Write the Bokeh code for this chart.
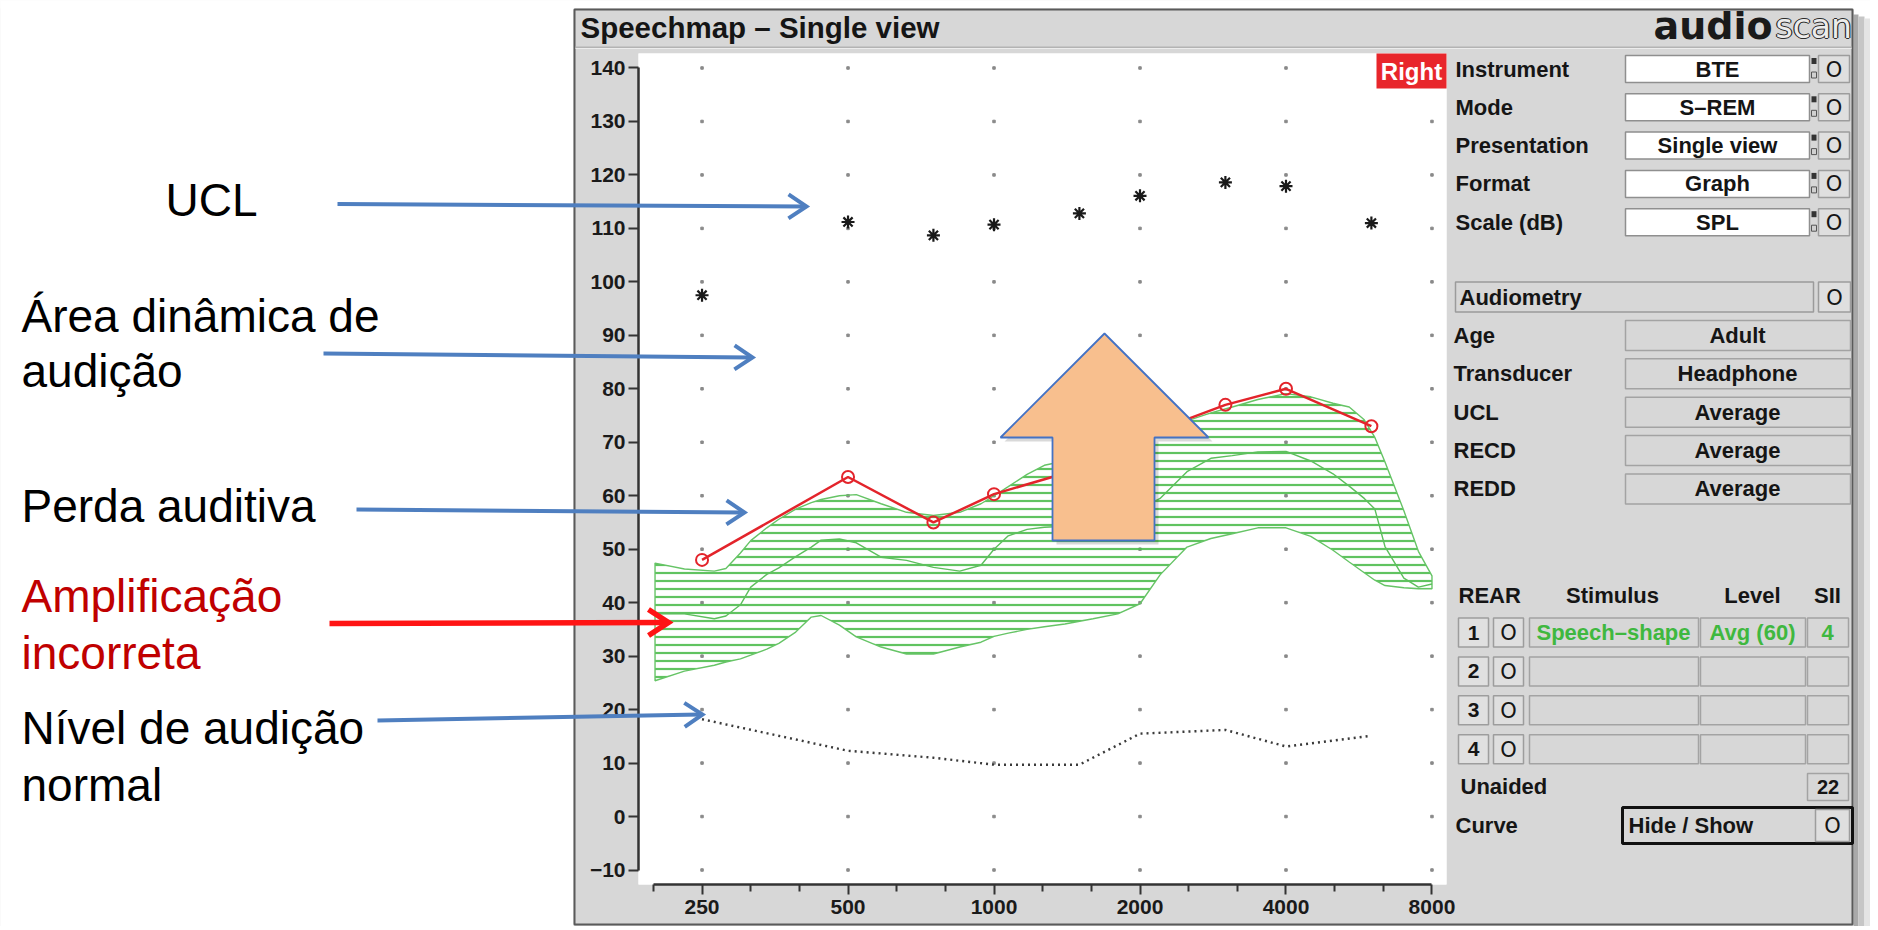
import math
from bokeh.plotting import figure
from bokeh.models import Range1d, FixedTicker, NumeralTickFormatter, LinearScale
from bokeh.core.properties import value
from bokeh.embed import file_html
from bokeh.resources import INLINE

# ---------------- data ----------------
db_ticks = [-10, 0, 10, 20, 30, 40, 50, 60, 70, 80, 90, 100, 110, 120, 130, 140]
freq_ticks = [250, 500, 1000, 2000, 4000, 8000]
freq_minor = [198.4, 315, 397, 630, 794, 1260, 1587, 2520, 3175, 5040, 6350]

ucl_freq = [250, 500, 750, 1000, 1500, 2000, 3000, 4000, 6000]
ucl_db = [97.5, 111.2, 108.7, 110.7, 112.8, 116.1, 118.6, 117.9, 111.0]

thr_freq = [250, 500, 750, 1000, 1500, 2000, 3000, 4000, 6000]
thr_db = [48.0, 63.5, 55.0, 60.3, 65.0, 71.0, 77.0, 80.0, 73.0]

normal_freq = [250, 500, 750, 1000, 1500, 2000, 3000, 4000, 6000]
normal_db = [18.2, 12.3, 11.0, 9.7, 9.7, 15.5, 16.2, 13.1, 15.1]

band_freq = [200, 230, 265, 280, 300, 315, 340, 360, 390, 420, 440, 480, 520, 585, 660, 750,
             850, 940, 1000, 1070, 1170, 1270, 1400, 1600, 1800, 2000, 2200, 2500, 2800, 3100,
             3500, 4000, 4500, 5000, 5400, 5800, 6100, 6400, 7000, 7500, 8000]
band_upper = [47.4, 46.3, 45.9, 46.4, 49.3, 51.6, 54.0, 55.6, 57.5, 58.7, 59.3, 60.0, 60.2, 58.5,
              56.9, 56.3, 56.9, 58.5, 60.0, 61.7, 64.0, 65.7, 66.5, 67.5, 69.0, 70.5, 72.0, 74.0,
              75.5, 76.6, 78.0, 79.1, 78.5, 77.3, 76.6, 74.2, 70.9, 66.3, 57.2, 49.6, 45.0]
band_mid = [37.9, 37.9, 37.0, 37.5, 39.6, 42.9, 45.3, 46.5, 48.6, 50.4, 51.7, 51.9, 51.2, 48.5,
            47.9, 46.6, 45.9, 47.0, 50.0, 52.5, 53.7, 54.1, 54.3, 55.0, 56.0, 57.5, 59.5, 64.5,
            67.0, 67.5, 68.2, 68.3, 66.5, 64.1, 61.8, 59.5, 57.5, 50.5, 44.6, 42.9, 43.5]
band_lower = [25.4, 27.2, 28.3, 28.9, 29.5, 30.2, 31.3, 32.4, 34.5, 37.3, 37.6, 35.8, 33.6, 31.7,
              30.4, 30.4, 31.7, 32.6, 33.7, 34.3, 35.0, 35.5, 36.0, 37.0, 37.9, 39.8, 45.2, 50.4,
              52.0, 52.9, 54.0, 54.0, 52.4, 49.8, 47.6, 45.6, 44.2, 43.2, 42.8, 42.6, 42.6]

top_labels = ["Instrument", "Mode", "Presentation", "Format", "Scale (dB)"]
top_values = ["BTE", "S\u2013REM", "Single view", "Graph", "SPL"]
aud_labels = ["Age", "Transducer", "UCL", "RECD", "REDD"]
aud_values = ["Adult", "Headphone", "Average", "Average", "Average"]
rear_stim = ["Speech\u2013shape", "", "", ""]
rear_level = ["Avg (60)", "", "", ""]
rear_sii = ["4", "", "", ""]

# ---------------- layout / styling ----------------
PANEL = "#d7d7d7"
GREEN = "#3fb83f"
BLUE = "#4f7fc0"
W, H = 1870, 926
FL, FR, FT, FB = 638, 1446, 53, 884   # plot frame in page pixels

p = figure(width=W, height=H, output_backend="svg", toolbar_location=None,
           x_axis_type="log", x_range=Range1d(184.9, 8571), y_range=Range1d(-12.71, 142.71),
           min_border_left=FL, min_border_right=W - FR, min_border_top=FT,
           min_border_bottom=H - FB)
p.extra_x_ranges = {"px": Range1d(FL, FR)}
p.extra_y_ranges = {"py": Range1d(FB, FT)}
p.extra_x_scales = {"px": LinearScale()}
p.extra_y_scales = {"py": LinearScale()}
p.background_fill_color = "white"
p.border_fill_color = PANEL
p.outline_line_color = None
p.xgrid.visible = False
p.ygrid.visible = False

xa = p.xaxis[0]
ya = p.yaxis[0]
xa.ticker = FixedTicker(ticks=freq_ticks, minor_ticks=freq_minor)
xa.formatter = NumeralTickFormatter(format="0")
xa.bounds = (freq_minor[0], freq_ticks[-1])
ya.ticker = FixedTicker(ticks=db_ticks)
ya.bounds = (db_ticks[0], db_ticks[-1])
for ax in (xa, ya):
    ax.axis_line_color = "#333333"
    ax.axis_line_width = 2.5
    ax.major_tick_line_color = "#333333"
    ax.major_tick_line_width = 2
    ax.major_tick_out = 10
    ax.major_tick_in = 0
    ax.minor_tick_line_color = "#333333"
    ax.minor_tick_line_width = 2
    ax.minor_tick_out = 7
    ax.minor_tick_in = 0
    ax.major_label_text_font = "Liberation Sans"
    ax.major_label_text_font_style = "bold"
    ax.major_label_text_font_size = "21px"
    ax.major_label_text_color = "#1a1a1a"
xa.major_label_standoff = 5
ya.major_label_standoff = 3

# grid dots
gx = [f for f in freq_ticks for d in db_ticks]
gy = [d for f in freq_ticks for d in db_ticks]
p.scatter(gx, gy, marker="square", size=2.5, color="#8a8a8a")

# speech band
p.varea(x=band_freq, y1=band_lower, y2=band_upper, fill_color=None,
        hatch_pattern="horizontal_line", hatch_color="#4fbd4f", hatch_scale=8,
        hatch_weight=2.2, hatch_alpha=0.9)
p.patch(band_freq + band_freq[::-1], band_upper + band_lower[::-1], fill_color=None,
        line_color="#66c466", line_width=1.4)
p.line(band_freq, band_mid, line_color="#5cbf5c", line_width=1.4)

# normal hearing
p.line(normal_freq, normal_db, line_color="#3a3a3a", line_width=2.4, line_dash="2 4")
# thresholds
p.line(thr_freq, thr_db, line_color="#e3242b", line_width=2.5)
p.scatter(thr_freq, thr_db, marker="circle", size=12, fill_color=None,
          line_color="#e3242b", line_width=2)
# UCL
p.scatter(ucl_freq, ucl_db, marker="asterisk", size=13, line_color="#1a1a1a", line_width=2.2)

PX = dict(x_range_name="px", y_range_name="py", level="overlay")


# ---------------- helpers for the surrounding decoration (page pixels) ----------------
def box(l, t, r, b, fill=PANEL, line="#9b9b9b", lw=1.5):
    p.quad(left=[l], right=[r], top=[t], bottom=[b], fill_color=fill,
           fill_alpha=1.0 if fill else 0.0, line_color=line,
           line_alpha=1.0 if line else 0.0, line_width=lw, **PX)


def lab(x, y, s, size=22, color="#151515", style="bold", align="left",
        font="Liberation Sans"):
    p.text(x=[x], y=[y], text=[s], text_font=value(font), text_font_size=value(f"{size}px"),
           text_font_style=style, text_color=color, text_align=align,
           text_baseline="middle", **PX)


def arrow(x0, y0, x1, y1, color, lw, back, spread):
    ang = math.atan2(y1 - y0, x1 - x0)
    ux, uy = math.cos(ang), math.sin(ang)
    nx, ny = -uy, ux
    p.line([x0, x1 - ux * 2], [y0, y1 - uy * 2], line_color=color, line_width=lw, **PX)
    p.line([x1 - ux * back + nx * spread, x1, x1 - ux * back - nx * spread],
           [y1 - uy * back + ny * spread, y1, y1 - uy * back - ny * spread],
           line_color=color, line_width=lw, line_join="miter", **PX)


def button(l, t, r, b):
    box(l, t, r, b, fill="#dfdfdf", line="#9d9d9d")
    lab((l + r) / 2, (t + b) / 2 + 0.5, "O", size=21, style="normal", align="center",
        font="DejaVu Sans")


# page white outside the app window
box(0, 0, 573, H, fill="white", line=None)
box(1853, 0, W, H, fill="white", line=None)
box(0, 0, W, 8, fill="white", line=None)
box(1853, 14, 1858, H, fill="#a9a9a9", line=None)
box(1858, 16, 1864, H, fill="#c6c6c6", line=None)
box(1864, 18, 1870, H, fill="#e4e4e4", line=None)
# app frame
box(574, 9, 1852, H - 2, fill=None, line="#5a5a5a", lw=2)
# title bar separator
box(575, 46, 1851, 47.5, fill="#b3b3b3", line=None)
box(575, 47.5, 1851, 48.5, fill="#ececec", line=None)
lab(580, 27, "Speechmap \u2013 Single view", size=29.5)
# logo
lab(1653, 25, "audio", size=38, font="DejaVu Sans", color="#1a1a1a")
for dx, dy in [(-1.2, 0), (1.2, 0), (0, -1.2), (0, 1.2)]:
    lab(1775 + dx, 26 + dy, "scan", size=33, style="normal", font="DejaVu Sans",
        color="#2a2a2a")
lab(1775, 26, "scan", size=33, style="normal", font="DejaVu Sans", color="#ececec")

# right panel: top section
for i, (name, val) in enumerate(zip(top_labels, top_values)):
    yc = 68.5 + i * 38.3
    lab(1455, yc, name)
    box(1625, yc - 13.5, 1809, yc + 13.5, fill="white", line="#8f8f8f")
    lab(1717, yc, val, size=22, align="center")
    box(1811, yc - 11, 1816, yc - 5, fill="#333333", line=None)
    box(1811, yc + 3, 1816, yc + 9, fill="#d0d0d0", line="#555555", lw=1)
    button(1818, yc - 13.5, 1849, yc + 13.5)

# audiometry section
box(1455, 281.5, 1813, 311.5, fill=PANEL, line="#9b9b9b")
lab(1459, 296.5, "Audiometry")
button(1818, 281.5, 1850, 311.5)
for i, (name, val) in enumerate(zip(aud_labels, aud_values)):
    yc = 335 + i * 38.35
    lab(1453, yc, name)
    box(1625, yc - 15, 1850, yc + 15, fill=PANEL, line="#a3a3a3")
    lab(1737, yc, val, size=22, align="center")

# REAR table
lab(1458, 595, "REAR")
lab(1612, 595, "Stimulus", align="center")
lab(1752, 595, "Level", align="center")
lab(1827, 595, "SII", align="center")
for i in range(4):
    yc = 632 + i * 38.9
    box(1458, yc - 14.5, 1488, yc + 14.5, fill="#e0e0e0", line="#9d9d9d")
    lab(1473, yc, str(i + 1), size=21, align="center")
    button(1493, yc - 14.5, 1523, yc + 14.5)
    box(1529, yc - 14.5, 1698, yc + 14.5, fill=PANEL, line="#a3a3a3")
    box(1700, yc - 14.5, 1805, yc + 14.5, fill=PANEL, line="#a3a3a3")
    box(1807, yc - 14.5, 1848, yc + 14.5, fill=PANEL, line="#a3a3a3")
    if rear_stim[i]:
        lab(1613, yc, rear_stim[i], size=22, color=GREEN, align="center")
        lab(1752, yc, rear_level[i], size=22, color=GREEN, align="center")
        lab(1827, yc, rear_sii[i], size=22, color=GREEN, align="center")

lab(1460, 786, "Unaided")
box(1807, 773, 1848, 800, fill=PANEL, line="#a3a3a3")
lab(1827.5, 786.5, "22", size=20, align="center")
lab(1455, 825, "Curve")
box(1622, 807, 1852, 843, fill=PANEL, line="#111111", lw=3)
lab(1628, 825, "Hide / Show")
button(1815, 809, 1849, 841)

# "Right" badge
box(1376, 53, 1446, 88, fill="#e8262b", line=None)
lab(1411, 71, "Right", size=24, color="white", align="center")

# orange arrow overlay
ax_ = [1104, 1208, 1154, 1154, 1052, 1052, 1000]
ay_ = [333, 437, 437, 540, 540, 437, 437]
p.patch([v + 4 for v in ax_], [v + 4 for v in ay_], fill_color="black", fill_alpha=0.15,
        line_color=None, **PX)
p.patch(ax_, ay_, fill_color="#f8bf8e", line_color="#4472c4", line_width=1.8, **PX)

# left annotations
for x, y, s, c in [(165, 199, "UCL", "black"),
                   (21, 315, "\u00c1rea din\u00e2mica de", "black"),
                   (21, 370, "audi\u00e7\u00e3o", "black"),
                   (21, 505, "Perda auditiva", "black"),
                   (21, 595, "Amplifica\u00e7\u00e3o", "#c00000"),
                   (21, 652, "incorreta", "#c00000"),
                   (21, 727, "N\u00edvel de audi\u00e7\u00e3o", "black"),
                   (21, 784, "normal", "black")]:
    lab(x, y, s, size=46, style="normal", color=c)

arrow(337, 203.5, 806, 206, BLUE, 4, 18, 12)
arrow(323, 353, 752, 357, BLUE, 4, 18, 12)
arrow(356, 509, 744, 512, BLUE, 4, 18, 12)
arrow(329, 623, 668, 622, "#ff1414", 5.5, 20, 13)
arrow(377, 720, 702, 714, BLUE, 4, 18, 12)

open("out.html", "w").write(file_html(p, INLINE))
